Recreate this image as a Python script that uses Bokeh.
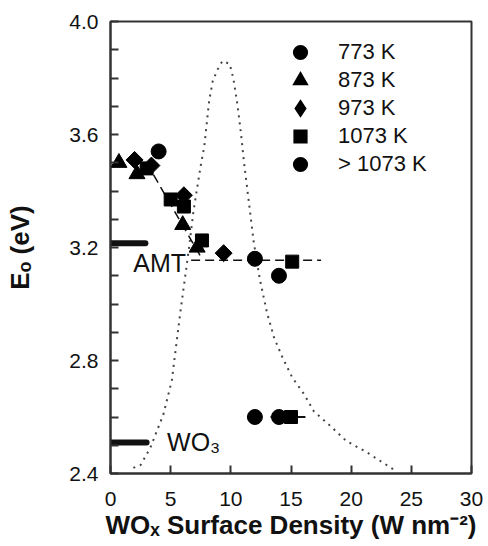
import math
from bokeh.plotting import figure
from bokeh.models import Legend, LegendItem, FixedTicker, PrintfTickFormatter
from bokeh.core.properties import value
from bokeh.embed import file_html
from bokeh.resources import INLINE

# ---- data ----
c773_x = [4.0, 12.0, 14.0]
c773_y = [3.54, 3.16, 3.10]
t873_x = [0.7, 2.2, 6.0, 7.2]
t873_y = [3.50, 3.46, 3.28, 3.20]
d973_x = [2.0, 3.4, 6.1, 9.4]
d973_y = [3.51, 3.49, 3.385, 3.18]
s1073_x = [3.0, 5.0, 6.1, 7.6, 15.1, 15.0]
s1073_y = [3.48, 3.37, 3.345, 3.225, 3.15, 2.60]
chi_x = [12.0, 14.0]
chi_y = [2.60, 2.60]

# horizontal error bars on the low points
err_x0 = [13.3, 13.9]
err_x1 = [14.7, 16.2]
err_y = [2.60, 2.60]

# dashed guide lines (trend)
diag_x = [3.0, 7.6]
diag_y = [3.50, 3.16]
flat_x = [6.7, 17.5]
flat_y = [3.155, 3.155]

# reference band gaps (thick bars)
band_x0 = [-0.6, -0.8]
band_x1 = [2.9, 3.0]
band_y = [3.215, 2.51]
band_names = ["AMT", "WO\u2083"]
band_label_x = [1.9, 4.7]
band_label_y = [3.145, 2.51]

# dotted distribution curve
curve_x = [1.9, 2.5, 3.3, 4.4, 5.1, 5.8, 6.5, 6.9, 7.5, 7.8, 8.2, 8.5, 8.9, 9.3,
           9.9, 10.2, 10.5, 10.8, 11.1, 11.5, 11.9, 12.4, 13.0, 13.6, 14.3, 15.1,
           16.1, 16.9, 18.1, 19.6, 21.3, 23.5]
curve_y = [2.42, 2.43, 2.49, 2.61, 2.73, 2.97, 3.19, 3.33, 3.49, 3.56, 3.72, 3.79, 3.83, 3.86,
           3.85, 3.80, 3.72, 3.62, 3.50, 3.36, 3.22, 3.09, 2.97, 2.88, 2.81, 2.74,
           2.68, 2.62, 2.575, 2.515, 2.475, 2.415]

x_ticks = [0, 5, 10, 15, 20, 25, 30]
y_ticks = [2.4, 2.8, 3.2, 3.6, 4.0]
y_minor = [2.5, 2.6, 2.7, 2.9, 3.0, 3.1, 3.3, 3.4, 3.5, 3.7, 3.8, 3.9]
x_title = "WO\u2093 Surface Density (W nm\u207b\u00b2)"
y_title = "E\u2092 (eV)"
legend_labels = ["773 K", "873 K", "973 K", "1073 K", "> 1073 K"]

FONT = "Liberation Sans"
INK = "#111111"

p = figure(width=488, height=546, x_range=(0, 30), y_range=(2.4, 4.0),
           output_backend="svg", toolbar_location=None,
           min_border_left=110, min_border_right=17, min_border_top=21, min_border_bottom=73)
p.grid.visible = False
p.outline_line_color = "#333333"
p.outline_line_width = 2
p.background_fill_color = "white"
p.border_fill_color = "white"

p.xaxis.ticker = FixedTicker(ticks=x_ticks)
p.yaxis.ticker = FixedTicker(ticks=y_ticks, minor_ticks=y_minor)
p.yaxis.formatter = PrintfTickFormatter(format="%.1f")
for ax in (p.xaxis, p.yaxis):
    ax.axis_line_color = "#333333"
    ax.axis_line_width = 2
    ax.major_tick_line_color = "#333333"
    ax.major_tick_line_width = 2
    ax.major_tick_in = 8
    ax.major_tick_out = 0
    ax.minor_tick_line_color = "#333333"
    ax.minor_tick_line_width = 2
    ax.minor_tick_in = 8
    ax.minor_tick_out = 0
    ax.major_label_text_font = FONT
    ax.major_label_text_font_size = "21px"
    ax.major_label_text_color = INK
    ax.axis_label_text_font = FONT
    ax.axis_label_text_font_style = "bold"
    ax.axis_label_text_font_size = "26px"
    ax.axis_label_text_color = INK
p.xaxis.minor_tick_line_color = None
p.xaxis.major_label_standoff = 18
p.yaxis.major_label_standoff = 12
p.xaxis.axis_label = x_title
p.yaxis.axis_label = y_title
p.xaxis.axis_label_standoff = 1
p.yaxis.axis_label_standoff = 31

# dotted curve
p.line(curve_x, curve_y, line_color="#444444", line_width=2, line_dash="2 5")

# dashed guides
p.line(diag_x, diag_y, line_color=INK, line_width=1.5, line_dash="9 5")
p.line(flat_x, flat_y, line_color=INK, line_width=1.5, line_dash="9 5")

# thick reference bars
p.segment(x0=band_x0, x1=band_x1, y0=band_y, y1=band_y, line_color=INK, line_width=6, line_cap="round")
p.text(x=band_label_x, y=band_label_y, text=band_names, text_font=value(FONT),
       text_font_size="25px", text_color=INK, text_baseline="middle", text_align="left")

# error bars
p.segment(x0=err_x0, x1=err_x1, y0=err_y, y1=err_y, line_color=INK, line_width=2)

p.scatter(c773_x, c773_y, marker="circle", size=15, color="black")
p.scatter(t873_x, t873_y, marker="triangle", size=16, color="black")
p.scatter(d973_x, d973_y, marker="square", angle=math.pi / 4, size=12, color="black")
p.scatter(s1073_x, s1073_y, marker="square", size=13, color="black")
p.scatter(chi_x, chi_y, marker="circle", size=15, color="black")

# hidden proxies that only style the legend glyphs (thicker outline = larger glyph)
g1 = p.scatter(c773_x, c773_y, marker="circle", size=15, color="black", line_width=4, visible=False)
g2 = p.scatter(t873_x, t873_y, marker="triangle", size=16, color="black", line_width=3,
               line_join="miter", visible=False)
g3 = p.scatter(d973_x, d973_y, marker="diamond", size=16, color="black", line_width=4,
               line_join="miter", visible=False)
g4 = p.scatter(s1073_x, s1073_y, marker="square", size=13, color="black", line_width=3,
               line_join="miter", visible=False)
g5 = p.scatter(chi_x, chi_y, marker="circle", size=15, color="black", line_width=4, visible=False)

legend = Legend(items=[
    LegendItem(label=legend_labels[0], renderers=[g1]),
    LegendItem(label=legend_labels[1], renderers=[g2]),
    LegendItem(label=legend_labels[2], renderers=[g3]),
    LegendItem(label=legend_labels[3], renderers=[g4]),
    LegendItem(label=legend_labels[4], renderers=[g5]),
], location=(176, 295))
legend.border_line_color = None
legend.background_fill_alpha = 0
legend.inactive_fill_alpha = 0
legend.padding = 0
legend.margin = 0
legend.spacing = 0
legend.glyph_width = 28
legend.glyph_height = 28
legend.label_height = 28
legend.label_standoff = 24
legend.label_text_font = FONT
legend.label_text_font_size = "22px"
legend.label_text_color = INK
p.add_layout(legend)

open("out.html", "w").write(file_html(p, INLINE))
